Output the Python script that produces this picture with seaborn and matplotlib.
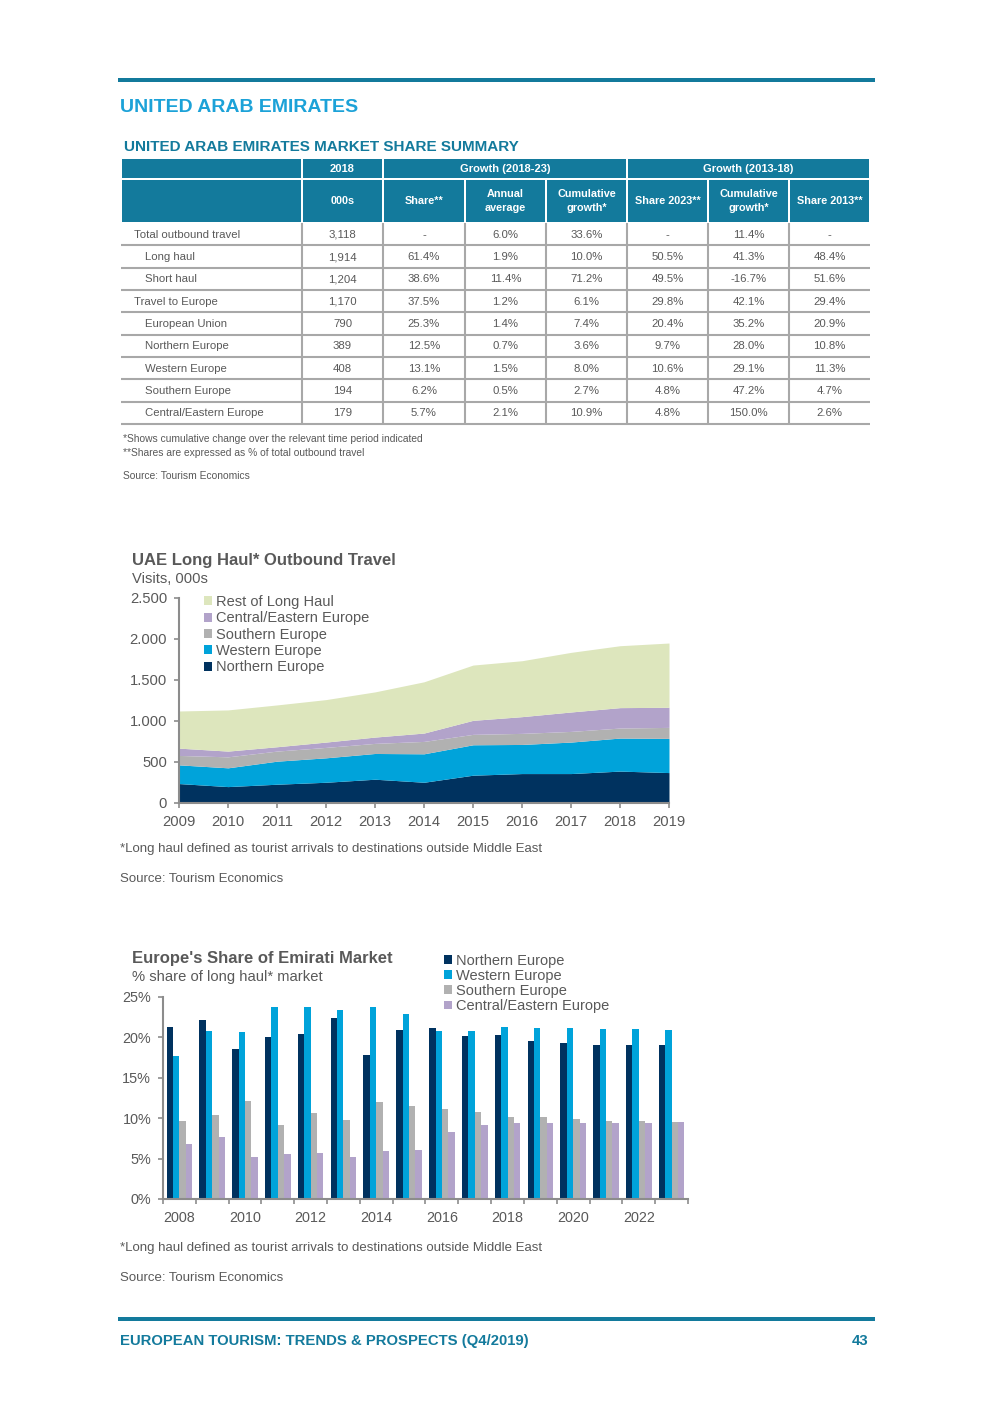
import numpy as np
import pandas as pd
import matplotlib
matplotlib.use("Agg")
import matplotlib.pyplot as plt
import seaborn as sns
from matplotlib.patches import Rectangle, Patch
from matplotlib.ticker import FuncFormatter

# ---------------- DATA ----------------
row_labels = ["Total outbound travel", "Long haul", "Short haul", "Travel to Europe",
              "European Union", "Northern Europe", "Western Europe", "Southern Europe",
              "Central/Eastern Europe"]
row_indent = [0, 1, 1, 0, 1, 1, 1, 1, 1]
col_000s = ["3,118", "1,914", "1,204", "1,170", "790", "389", "408", "194", "179"]
col_share18 = ["-", "61.4%", "38.6%", "37.5%", "25.3%", "12.5%", "13.1%", "6.2%", "5.7%"]
col_annual = ["6.0%", "1.9%", "11.4%", "1.2%", "1.4%", "0.7%", "1.5%", "0.5%", "2.1%"]
col_cum1823 = ["33.6%", "10.0%", "71.2%", "6.1%", "7.4%", "3.6%", "8.0%", "2.7%", "10.9%"]
col_share23 = ["-", "50.5%", "49.5%", "29.8%", "20.4%", "9.7%", "10.6%", "4.8%", "4.8%"]
col_cum1318 = ["11.4%", "41.3%", "-16.7%", "42.1%", "35.2%", "28.0%", "29.1%", "47.2%", "150.0%"]
col_share13 = ["-", "48.4%", "51.6%", "29.4%", "20.9%", "10.8%", "11.3%", "4.7%", "2.6%"]
header_top = ["", "2018", "Growth (2018-23)", "Growth (2013-18)"]
header_sub = ["", "000s", "Share**", "Annual\naverage", "Cumulative\ngrowth*",
              "Share 2023**", "Cumulative\ngrowth*", "Share 2013**"]

area_years = [2009, 2010, 2011, 2012, 2013, 2014, 2015, 2016, 2017, 2018, 2019]
area_northern = [237, 200, 229, 253, 290, 253, 339, 359, 359, 389, 371]
area_western = [228, 229, 281, 298, 314, 347, 371, 355, 384, 403, 417]
area_southern = [115, 134, 123, 127, 123, 151, 127, 135, 130, 122, 134]
area_ce = [89, 70, 53, 65, 77, 102, 171, 204, 237, 249, 245]
area_rest = [453, 502, 510, 518, 551, 625, 674, 682, 727, 755, 784]
area_names = ["Northern Europe", "Western Europe", "Southern Europe",
              "Central/Eastern Europe", "Rest of Long Haul"]

bar_years = [str(y) for y in range(2008, 2024)]
bar_northern = [21.3, 22.2, 18.6, 20.1, 20.45, 22.4, 17.85, 20.9, 21.2, 20.2, 20.3, 19.6, 19.3, 19.1, 19.1, 19.1]
bar_western = [17.7, 20.8, 20.7, 23.8, 23.8, 23.4, 23.8, 22.9, 20.8, 20.8, 21.3, 21.2, 21.2, 21.1, 21.0, 20.95]
bar_southern = [9.6, 10.45, 12.1, 9.1, 10.6, 9.75, 12.0, 11.45, 11.1, 10.8, 10.2, 10.1, 9.85, 9.7, 9.7, 9.5]
bar_ce = [6.85, 7.7, 5.25, 5.6, 5.75, 5.25, 6.0, 6.1, 8.35, 9.2, 9.35, 9.35, 9.35, 9.35, 9.35, 9.5]
bar_names = ["Northern Europe", "Western Europe", "Southern Europe", "Central/Eastern Europe"]

# ---------------- STYLE ----------------
sns.set_theme(style="white")
plt.rcParams['font.family'] = ['Liberation Sans', 'DejaVu Sans']

TEAL = '#137a9c'
CYAN = '#1ca2d8'
TXT = '#595959'
GRID = '#a8a8a8'
SPINE = '#8c8c8c'
C_N, C_W, C_S, C_CE, C_R = '#00325f', '#00a3da', '#b1b1b1', '#b2a3ca', '#dde6bd'

W, H = 992, 1403
fig = plt.figure(figsize=(W / 100, H / 100), dpi=100)
page = fig.add_axes([0, 0, 1, 1])
page.set_xlim(0, W)
page.set_ylim(H, 0)
page.axis('off')

# top rule and titles
page.add_patch(Rectangle((118, 78), 757, 4, color=TEAL, lw=0))
page.text(120, 112, "UNITED ARAB EMIRATES", fontsize=14, fontweight='bold', color=CYAN, va='baseline')
page.text(124, 151, "UNITED ARAB EMIRATES MARKET SHARE SUMMARY", fontsize=11, fontweight='bold',
          color=TEAL, va='baseline')

# ---------------- TABLE ----------------
edges = [121, 302, 383, 465, 546, 627, 708, 789, 870]
top_spans = [(121, 302), (302, 383), (383, 627), (627, 870)]
for (x0, x1), t in zip(top_spans, header_top):
    page.add_patch(Rectangle((x0 + 1, 159), x1 - x0 - 2, 19, color=TEAL, lw=0))
    page.text((x0 + x1) / 2, 168.5, t, fontsize=8, fontweight='bold', color='white',
              ha='center', va='center')
for i, t in enumerate(header_sub):
    x0, x1 = edges[i], edges[i + 1]
    page.add_patch(Rectangle((x0 + 1, 180), x1 - x0 - 2, 42, color=TEAL, lw=0))
    page.text((x0 + x1) / 2, 201, t, fontsize=7.8, fontweight='bold', color='white',
              ha='center', va='center', linespacing=1.45)

row_top, row_h = 223, 22.35
cols = [col_000s, col_share18, col_annual, col_cum1823, col_share23, col_cum1318, col_share13]
for r, lab in enumerate(row_labels):
    yc = row_top + row_h * (r + 0.5)
    page.text(134 + 11 * row_indent[r], yc + 0.5, lab, fontsize=8.2, color=TXT, va='center')
    for c, col in enumerate(cols):
        x0, x1 = edges[c + 1], edges[c + 2]
        page.text((x0 + x1) / 2, yc + 0.5, col[r], fontsize=8.2, color=TXT, ha='center', va='center')
    yb = row_top + row_h * (r + 1)
    page.plot([121, 870], [yb, yb], color=GRID, lw=1.5, solid_capstyle='butt')
for x in edges[1:-1]:
    page.plot([x, x], [row_top, row_top + row_h * 9], color=GRID, lw=1.5, solid_capstyle='butt')

page.text(123, 439, "*Shows cumulative change over the relevant time period indicated",
          fontsize=7.4, color=TXT, va='center')
page.text(123, 453, "**Shares are expressed as % of total outbound travel",
          fontsize=7.4, color=TXT, va='center')
page.text(123, 476, "Source: Tourism Economics", fontsize=7.4, color=TXT, va='center')

# ---------------- AREA CHART ----------------
page.text(132, 565, "UAE Long Haul* Outbound Travel", fontsize=12, fontweight='bold', color=TXT, va='baseline')
page.text(132, 583, "Visits, 000s", fontsize=10.6, color=TXT, va='baseline')

ax1 = fig.add_axes([179 / W, 1 - 803 / H, 490 / W, 205 / H])
area_cols = [C_N, C_W, C_S, C_CE, C_R]
ax1.stackplot(area_years, area_northern, area_western, area_southern, area_ce, area_rest,
              colors=area_cols, linewidth=0)
ax1.set_xlim(2009, 2019)
ax1.set_ylim(0, 2500)
ax1.set_xticks(area_years)
ax1.set_yticks([0, 500, 1000, 1500, 2000, 2500])
ax1.yaxis.set_major_formatter(FuncFormatter(lambda v, p: f"{int(v):,}".replace(",", ".")))
ax1.set_facecolor('none')
sns.despine(ax=ax1)
for s in ['left', 'bottom']:
    ax1.spines[s].set_color(SPINE)
    ax1.spines[s].set_linewidth(1.5)
ax1.tick_params(axis='both', which='major', bottom=True, left=True, direction='out', length=3.5,
                width=1.2, color=SPINE, labelsize=10.6, labelcolor=TXT, pad=5)
handles = [Patch(facecolor=c, edgecolor='none') for c in area_cols][::-1]
ax1.legend(handles, area_names[::-1], loc='upper left', bbox_to_anchor=(204 / W, 1 - 595 / H),
           bbox_transform=fig.transFigure, frameon=False, fontsize=10.5, handlelength=0.55,
           handleheight=0.55, handletextpad=0.25, labelspacing=0.16, borderpad=0, borderaxespad=0,
           labelcolor=TXT)

page.text(120, 852, "*Long haul defined as tourist arrivals to destinations outside Middle East",
          fontsize=9.5, color=TXT, va='baseline')
page.text(120, 882, "Source: Tourism Economics", fontsize=9.5, color=TXT, va='baseline')

# ---------------- BAR CHART ----------------
page.text(132, 963, "Europe's Share of Emirati Market", fontsize=12, fontweight='bold', color=TXT, va='baseline')
page.text(132, 981, "% share of long haul* market", fontsize=10.6, color=TXT, va='baseline')

df = pd.DataFrame({"year": bar_years,
                   bar_names[0]: bar_northern, bar_names[1]: bar_western,
                   bar_names[2]: bar_southern, bar_names[3]: bar_ce})
df = df.melt(id_vars="year", var_name="region", value_name="share")
df["share"] = df["share"] / 100.0

ax2 = fig.add_axes([163 / W, 1 - 1199 / H, 525 / W, 202 / H])
bar_cols = [C_N, C_W, C_S, C_CE]
sns.barplot(data=df, x="year", y="share", hue="region", order=bar_years, hue_order=bar_names,
            palette=bar_cols, width=0.78, saturation=1, linewidth=0, legend=False, ax=ax2)
ax2.set_facecolor('none')
ax2.set_xlim(-0.5, len(bar_years) - 0.5)
ax2.set_ylim(0, 0.25)
ax2.set_yticks(np.arange(0, 0.2501, 0.05))
ax2.yaxis.set_major_formatter(FuncFormatter(lambda v, p: f"{v * 100:.0f}%"))
ax2.set_xticks(np.arange(-0.5, len(bar_years), 1.0), labels=[""] * (len(bar_years) + 1))
ax2.set_xticks(np.arange(0, len(bar_years), 2), labels=bar_years[::2], minor=True)
ax2.set_xlabel("")
ax2.set_ylabel("")
sns.despine(ax=ax2)
for s in ['left', 'bottom']:
    ax2.spines[s].set_color(SPINE)
    ax2.spines[s].set_linewidth(1.5)
ax2.tick_params(axis='both', which='major', bottom=True, left=True, direction='out', length=3.5,
                width=1.2, color=SPINE, labelsize=10.4, labelcolor=TXT, pad=5)
ax2.tick_params(axis='x', which='minor', bottom=True, length=0, labelsize=10.4, labelcolor=TXT, pad=8.5)
handles2 = [Patch(facecolor=c, edgecolor='none') for c in bar_cols]
ax2.legend(handles2, bar_names, loc='upper left', bbox_to_anchor=(444 / W, 1 - 954 / H),
           bbox_transform=fig.transFigure, frameon=False, fontsize=10.5, handlelength=0.55,
           handleheight=0.55, handletextpad=0.25, labelspacing=0.07, borderpad=0, borderaxespad=0,
           labelcolor=TXT)

page.text(120, 1251, "*Long haul defined as tourist arrivals to destinations outside Middle East",
          fontsize=9.5, color=TXT, va='baseline')
page.text(120, 1281, "Source: Tourism Economics", fontsize=9.5, color=TXT, va='baseline')

# ---------------- FOOTER ----------------
page.add_patch(Rectangle((118, 1317), 757, 4, color=TEAL, lw=0))
page.text(120, 1345, "EUROPEAN TOURISM: TRENDS & PROSPECTS (Q4/2019)", fontsize=10.7,
          fontweight='bold', color=TEAL, va='baseline')
page.text(868, 1345, "43", fontsize=10.7, fontweight='bold', color=TEAL, va='baseline', ha='right')

fig.savefig("out.png", dpi=100)
